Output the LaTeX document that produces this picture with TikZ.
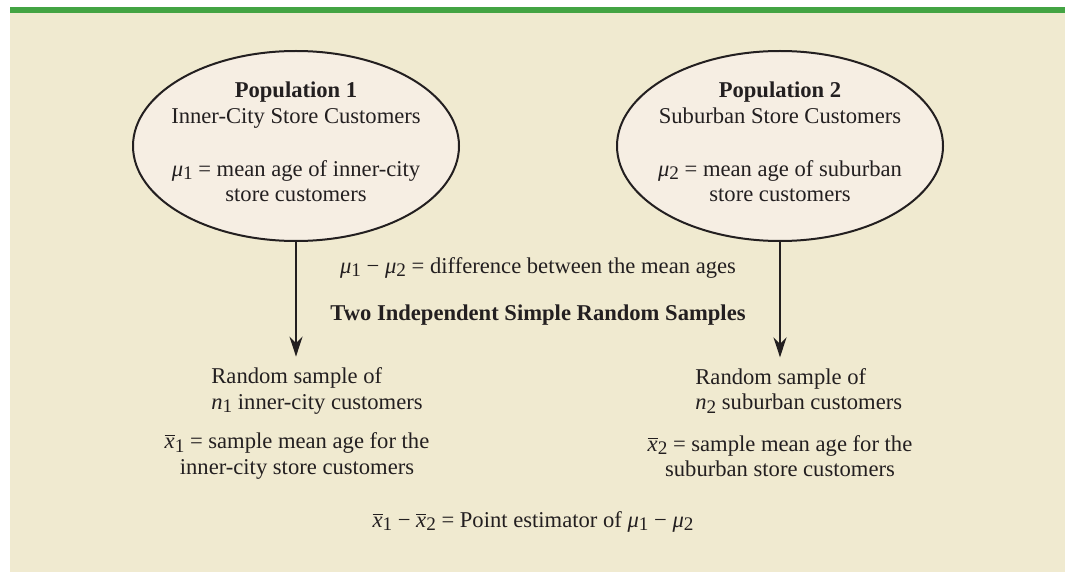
\documentclass[tikz,border=0pt]{standalone}
\usepackage{fontspec}
\setmainfont{Liberation Serif}
\usetikzlibrary{positioning, arrows.meta, shapes.geometric}
\definecolor{panel}{HTML}{F0EAD0}
\definecolor{topbar}{HTML}{43A443}
\definecolor{popfill}{HTML}{F6EEE3}
\definecolor{ink}{HTML}{231F20}
\newcommand{\lowidx}[1]{\raisebox{-0.32ex}{\fontsize{9.6}{10}\selectfont #1}}
\newcommand{\mui}[1]{\textit{μ}\lowidx{#1}}
\newcommand{\xb}[1]{$\overline{\hbox{\textit{x}}}$\lowidx{#1}}

\begin{document}
\begin{tikzpicture}[
  x=0.5pt, y=-0.5pt,
  font=\fontsize{11.3}{12.6}\selectfont, text=ink,
  pop/.style={draw=ink, ellipse, fill=popfill, line width=1pt,
              minimum width=163pt, minimum height=95pt, inner sep=0pt},
  txt/.style={align=center, inner sep=0pt},
  arr/.style={-{Stealth[length=10pt, width=6.5pt]}, line width=1.2pt,
              draw=ink, shorten >=5.5pt}
]
\useasboundingbox (0,0) rectangle (1065,572);
% panel
\fill[panel] (10,7) rectangle (1065,572);
\fill[topbar] (10,7) rectangle (1065,13);
% populations
\node[pop] (pop1) at (296,146) {};
\node[pop] (pop2) at (780,146) {};
\node[txt] (pop1txt) at (296,142) {\textbf{Population 1}\\Inner-City Store Customers\\[14pt]
      \mui{1} = mean age of inner-city\\store customers};
\node[txt] (pop2txt) at (780,142) {\textbf{Population 2}\\Suburban Store Customers\\[14pt]
      \mui{2} = mean age of suburban\\store customers};
% middle texts
\node[txt] (diff) at (538,268) {\mui{1} − \mui{2} = difference between the mean ages};
\node[txt, font=\fontsize{11.3}{12.6}\selectfont\bfseries] (two) at (538,315)
      {Two Independent Simple Random Samples};
% samples
\node[txt, align=left, anchor=west] (samp1) at (211,391) {Random sample of\\\textit{n}\lowidx{1} inner-city customers};
\node[txt, align=left, anchor=west] (samp2) at (695,391) {Random sample of\\\textit{n}\lowidx{2} suburban customers};
\node[txt] (mean1) at (297,456) {\xb{1} = sample mean age for the\\inner-city store customers};
\node[txt] (mean2) at (780,456) {\xb{2} = sample mean age for the\\suburban store customers};
\node[txt] (est) at (533,522) {\xb{1} − \xb{2} = Point estimator of \mui{1} − \mui{2}};
% samples drawn
\draw[arr] (pop1.south) -- (pop1.south |- samp1.north);
\draw[arr] (pop2.south) -- (pop2.south |- samp2.north);
\end{tikzpicture}
\end{document}
